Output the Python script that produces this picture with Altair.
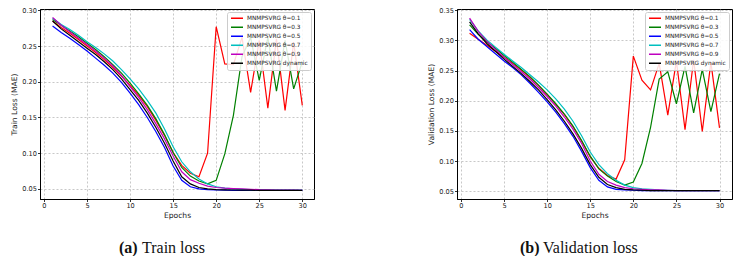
import altair as alt
import pandas as pd

epochs = list(range(1, 31))
series_names = ["MNMPSVRG θ=0.1", "MNMPSVRG θ=0.3", "MNMPSVRG θ=0.5",
                "MNMPSVRG θ=0.7", "MNMPSVRG θ=0.9", "MNMPSVRG dynamic"]
series_colors = ["#ff0000", "#008000", "#0000ff", "#00bfbf", "#bf00bf", "#000000"]

# Train loss (MAE)
train_01 = [0.285, 0.276, 0.268, 0.259, 0.250, 0.241, 0.231, 0.220, 0.208, 0.195,
            0.181, 0.165, 0.146, 0.125, 0.101, 0.083, 0.072, 0.067, 0.100, 0.277,
            0.225, 0.224, 0.262, 0.185, 0.258, 0.163, 0.260, 0.160, 0.255, 0.167]
train_03 = [0.287, 0.279, 0.271, 0.263, 0.254, 0.245, 0.235, 0.224, 0.212, 0.198,
            0.183, 0.167, 0.148, 0.126, 0.101, 0.080, 0.068, 0.061, 0.057, 0.062,
            0.099, 0.153, 0.235, 0.262, 0.202, 0.262, 0.187, 0.258, 0.190, 0.228]
train_05 = [0.278, 0.269, 0.261, 0.252, 0.243, 0.233, 0.223, 0.212, 0.199, 0.184,
            0.168, 0.150, 0.130, 0.108, 0.082, 0.062, 0.053, 0.050, 0.049, 0.0485,
            0.0482, 0.048, 0.048, 0.048, 0.048, 0.048, 0.048, 0.048, 0.048, 0.048]
train_07 = [0.289, 0.280, 0.273, 0.265, 0.256, 0.248, 0.239, 0.229, 0.217, 0.204,
            0.190, 0.174, 0.156, 0.134, 0.109, 0.088, 0.074, 0.064, 0.057, 0.053,
            0.051, 0.050, 0.0495, 0.049, 0.049, 0.0488, 0.0485, 0.0483, 0.0482, 0.048]
train_09 = [0.290, 0.279, 0.270, 0.261, 0.252, 0.243, 0.233, 0.222, 0.209, 0.193,
            0.178, 0.161, 0.141, 0.120, 0.096, 0.074, 0.063, 0.058, 0.054, 0.052,
            0.051, 0.0505, 0.050, 0.0495, 0.049, 0.0488, 0.0485, 0.0483, 0.0482, 0.048]
train_dyn = [0.285, 0.274, 0.265, 0.256, 0.247, 0.238, 0.228, 0.217, 0.204, 0.189,
             0.174, 0.156, 0.136, 0.114, 0.089, 0.067, 0.057, 0.052, 0.050, 0.049,
             0.0487, 0.0485, 0.0483, 0.0482, 0.048, 0.048, 0.048, 0.048, 0.048, 0.048]

# Validation loss (MAE)
val_01 = [0.312, 0.302, 0.292, 0.282, 0.272, 0.262, 0.251, 0.239, 0.225, 0.210,
          0.194, 0.177, 0.157, 0.133, 0.107, 0.088, 0.076, 0.070, 0.102, 0.274,
          0.234, 0.218, 0.262, 0.176, 0.266, 0.152, 0.268, 0.149, 0.264, 0.155]
val_03 = [0.326, 0.310, 0.298, 0.287, 0.275, 0.264, 0.252, 0.240, 0.226, 0.211,
          0.195, 0.178, 0.158, 0.134, 0.108, 0.087, 0.075, 0.066, 0.060, 0.065,
          0.096, 0.156, 0.236, 0.248, 0.195, 0.257, 0.180, 0.252, 0.182, 0.245]
val_05 = [0.318, 0.302, 0.290, 0.278, 0.266, 0.255, 0.243, 0.229, 0.214, 0.198,
          0.181, 0.162, 0.141, 0.116, 0.089, 0.068, 0.057, 0.053, 0.052, 0.0515,
          0.051, 0.051, 0.051, 0.051, 0.051, 0.051, 0.051, 0.051, 0.051, 0.051]
val_07 = [0.335, 0.316, 0.301, 0.289, 0.277, 0.266, 0.255, 0.243, 0.231, 0.218,
          0.203, 0.186, 0.166, 0.142, 0.115, 0.094, 0.079, 0.068, 0.060, 0.056,
          0.054, 0.053, 0.052, 0.0515, 0.051, 0.051, 0.051, 0.051, 0.051, 0.051]
val_09 = [0.337, 0.315, 0.299, 0.285, 0.272, 0.260, 0.248, 0.236, 0.222, 0.207,
          0.191, 0.173, 0.153, 0.129, 0.100, 0.078, 0.066, 0.060, 0.056, 0.054,
          0.053, 0.052, 0.052, 0.0515, 0.051, 0.051, 0.051, 0.051, 0.051, 0.051]
val_dyn = [0.331, 0.311, 0.295, 0.282, 0.269, 0.257, 0.245, 0.232, 0.218, 0.202,
           0.185, 0.166, 0.145, 0.121, 0.094, 0.073, 0.061, 0.056, 0.053, 0.052,
           0.0515, 0.051, 0.051, 0.051, 0.051, 0.051, 0.051, 0.051, 0.051, 0.051]

x_ticks = [0, 5, 10, 15, 20, 25, 30]
train_y_ticks = [0.05, 0.10, 0.15, 0.20, 0.25, 0.30]
val_y_ticks = [0.05, 0.10, 0.15, 0.20, 0.25, 0.30, 0.35]

captions = [("(a)", "Train loss"), ("(b)", "Validation loss")]

FONT = "DejaVu Sans"


def make_df(series_list):
    rows = []
    for name, vals in zip(series_names, series_list):
        for e, v in zip(epochs, vals):
            rows.append({"epoch": e, "loss": v, "series": name})
    return pd.DataFrame(rows)


def panel(series_list, xdom, ydom, yticks, ytitle, caption, cap_x, plot_w):
    df = make_df(series_list)
    lines = alt.Chart(df).mark_line(strokeWidth=1.2, clip=True).encode(
        x=alt.X("epoch:Q",
                scale=alt.Scale(domain=xdom, nice=False, zero=False),
                axis=alt.Axis(values=x_ticks, format="d", title="Epochs",
                              titlePadding=2)),
        y=alt.Y("loss:Q",
                scale=alt.Scale(domain=ydom, nice=False, zero=False),
                axis=alt.Axis(values=yticks, format=".2f", title=ytitle)),
        color=alt.Color("series:N",
                        scale=alt.Scale(domain=series_names, range=series_colors),
                        legend=alt.Legend(
                            title=None, orient="top-right", offset=3,
                            symbolType="stroke", symbolSize=144,
                            symbolStrokeWidth=1.5, labelFontSize=5.8,
                            labelFont=FONT, labelColor="#222222",
                            clipHeight=6.3, rowPadding=2, padding=3,
                            fillColor="rgba(255,255,255,0.85)",
                            strokeColor="#cccccc", cornerRadius=2,
                            labelOffset=3)),
    )
    cap_df = pd.DataFrame({"bold": [caption[0]], "rest": [caption[1]]})
    cap_bold = alt.Chart(cap_df).mark_text(
        font="Liberation Serif", fontSize=16, fontWeight="bold",
        align="left", baseline="alphabetic", color="#111111"
    ).encode(text="bold:N", x=alt.value(cap_x), y=alt.value(243.5))
    cap_rest = alt.Chart(cap_df).mark_text(
        font="Liberation Serif", fontSize=16, fontWeight="normal",
        align="left", baseline="alphabetic", color="#111111"
    ).encode(text="rest:N", x=alt.value(cap_x + 23), y=alt.value(243.5))
    return alt.layer(lines, cap_bold, cap_rest).properties(width=plot_w, height=190)


left = panel([train_01, train_03, train_05, train_07, train_09, train_dyn],
             [-0.46, 31.36], [0.0359, 0.3018], train_y_ticks,
             "Train Loss (MAE)", captions[0], 79, 274)
right = panel([val_01, val_03, val_05, val_07, val_09, val_dyn],
              [-0.46, 31.45], [0.0370, 0.3522], val_y_ticks,
              "Validation Loss (MAE)", captions[1], 63, 275)

chart = alt.hconcat(left, right, spacing=112).resolve_scale(color="independent").properties(
    padding={"left": 2, "top": -2, "right": 0, "bottom": 0}
).configure_view(
    stroke="#000000", strokeWidth=1
).configure_axis(
    labelFont=FONT, titleFont=FONT, labelFontSize=6.6, titleFontSize=7.6,
    labelColor="#222222", titleColor="#222222", titleFontWeight="normal",
    domainColor="#000000", domainWidth=1, tickColor="#000000", tickSize=2.5,
    tickWidth=0.8, labelPadding=1, titlePadding=3,
    gridColor="#b0b0b0", gridDash=[2, 2], gridWidth=0.7
).configure_legend(
    labelLimit=200
)

chart.save("out.html", embed_options={"renderer": "svg", "actions": False})
